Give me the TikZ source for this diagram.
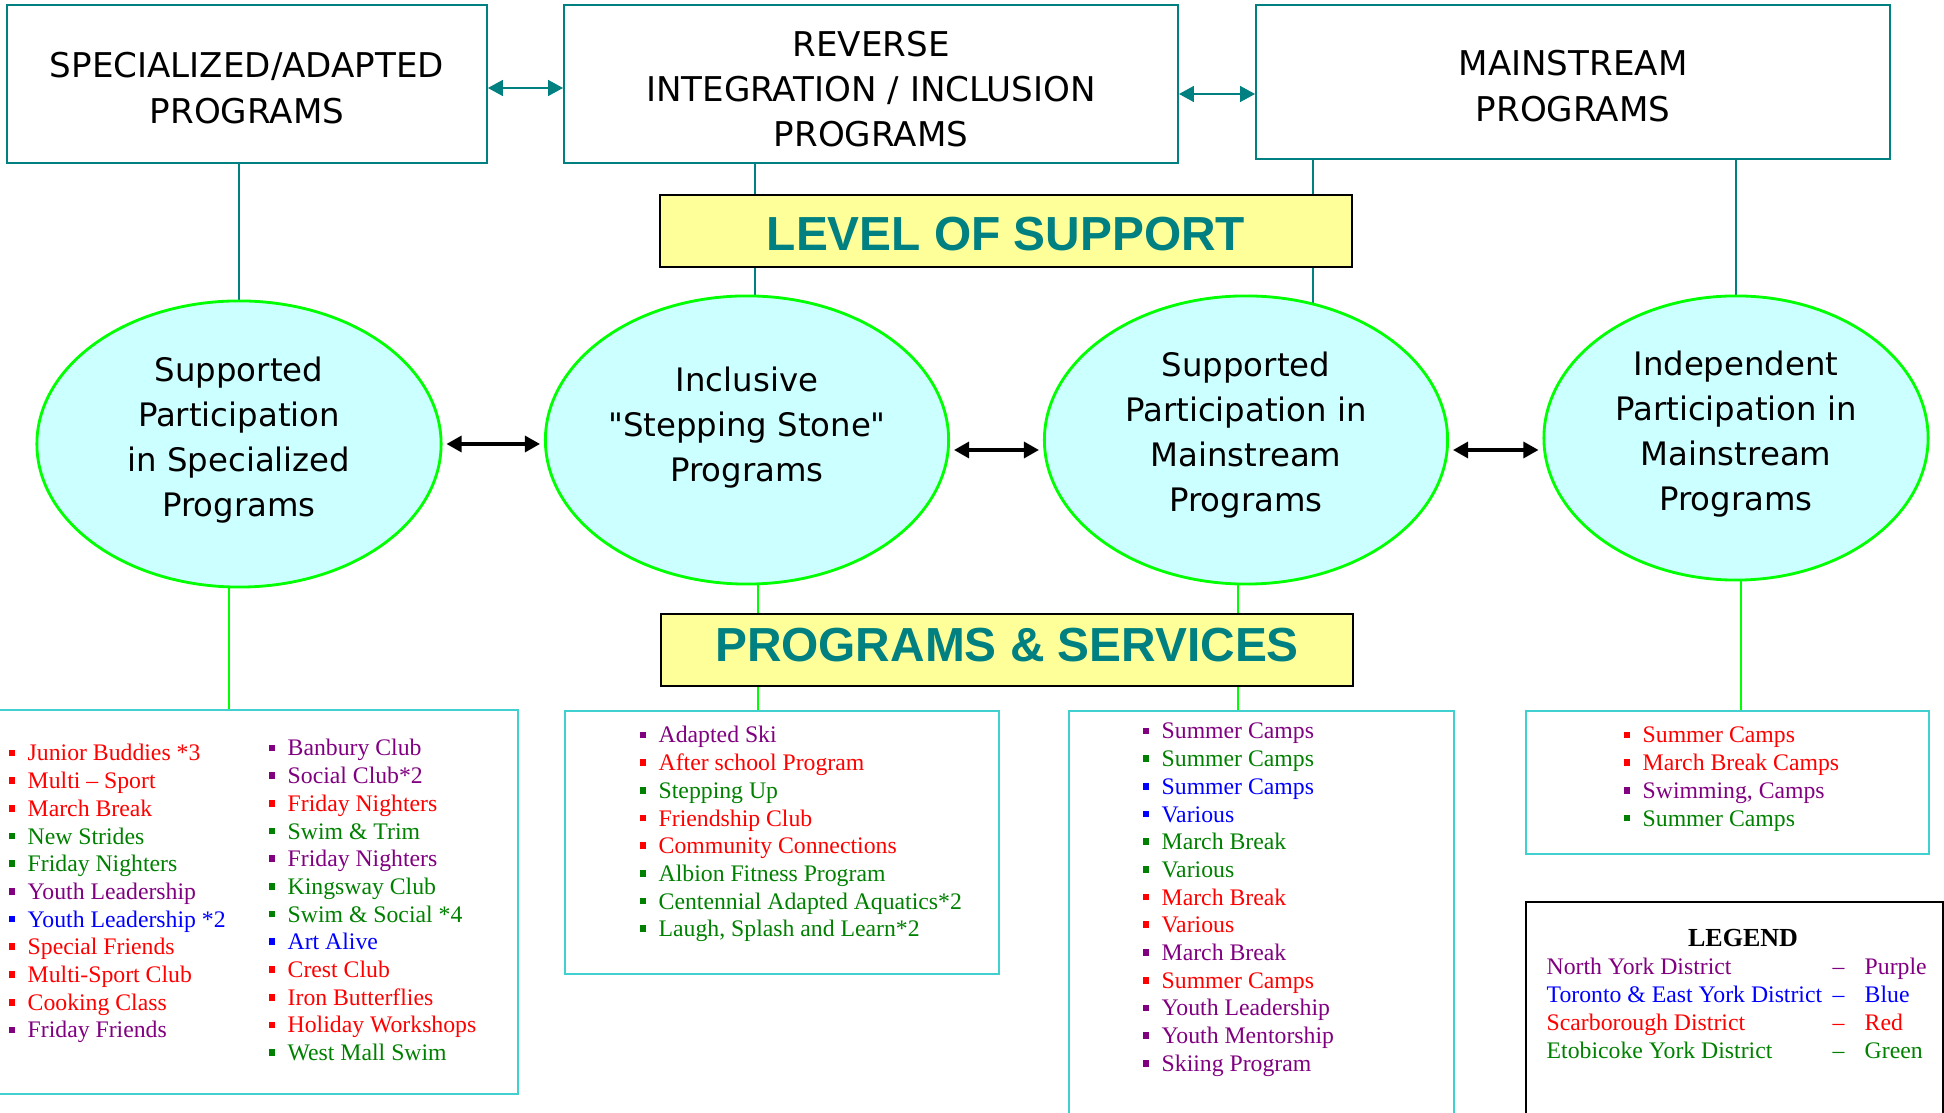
\documentclass[tikz,border=0pt]{standalone}
\usepackage{fontspec}
\setmainfont{Liberation Serif}
\newfontfamily\ovalfont{DejaVu Sans}
\newfontfamily\bannerfont{Liberation Sans}
\usetikzlibrary{arrows.meta,shapes.geometric}
\pgfdeclarelayer{background}
\pgfsetlayers{background,main}
\definecolor{tealc}{RGB}{0,128,128}
\definecolor{limec}{RGB}{0,255,0}
\definecolor{ovalfill}{RGB}{204,255,255}
\definecolor{bannerfill}{RGB}{255,255,153}
\definecolor{listframe}{RGB}{64,208,208}
\definecolor{nyd}{RGB}{128,0,128}
\definecolor{ted}{RGB}{0,0,255}
\definecolor{scd}{RGB}{255,0,0}
\definecolor{etd}{RGB}{0,128,0}
\newcommand\sqbullet{\raisebox{1.35pt}{\rule{1.9pt}{1.9pt}}\hspace{3.5pt}}
\tikzstyle{levelbox}=[draw=tealc,line width=0.45pt,inner sep=0pt]
\tikzstyle{boxtext}=[inner sep=0pt,align=center,font=\ovalfont\fontsize{9.7}{12.9}\selectfont]
\tikzstyle{oval}=[ellipse,draw=limec,fill=ovalfill,line width=0.8pt,inner sep=0pt]
\tikzstyle{ovaltext}=[inner sep=0pt,align=center,font=\ovalfont\fontsize{9.2}{12.8}\selectfont]
\tikzstyle{banner}=[draw=black,fill=bannerfill,line width=0.6pt,minimum width=6.92cm,minimum height=0.72cm,inner sep=0pt,text=tealc,font=\bannerfont\bfseries\fontsize{13.6}{16}\selectfont]
\tikzstyle{listbox}=[draw=listframe,line width=0.45pt,inner sep=0pt]
\tikzstyle{item}=[anchor=base west,inner sep=0pt,font=\fontsize{6.75}{8}\selectfont]
\tikzstyle{tealline}=[draw=tealc,line width=0.3pt]
\tikzstyle{greenline}=[draw=limec,line width=0.3pt]
\tikzstyle{tealarrow}=[draw=tealc,line width=0.45pt,{Triangle[length=0.15cm,width=0.16cm]}-{Triangle[length=0.15cm,width=0.16cm]}]
\tikzstyle{blackarrow}=[draw=black,line width=0.9pt,{Triangle[length=0.15cm,width=0.16cm]}-{Triangle[length=0.15cm,width=0.16cm]},shorten <=0.04cm,shorten >=0.04cm]

\begin{document}
\begin{tikzpicture}[x=0.01cm, y=-0.01cm]
    \useasboundingbox (0,0) rectangle (1944,1113);

    % Top row of program types
    \node[levelbox,minimum width=4.80cm,minimum height=1.58cm] (spec) at (247,84) {};
    \node[levelbox,minimum width=6.14cm,minimum height=1.58cm] (rev) at (871,84) {};
    \node[levelbox,minimum width=6.34cm,minimum height=1.54cm] (main) at (1573,82) {};
    \node[boxtext] (spec-t) at ([yshift=-0.04cm]spec.center) {SPECIALIZED/ADAPTED\\PROGRAMS};
    \node[boxtext] (rev-t) at ([yshift=-0.05cm]rev.center) {REVERSE\\INTEGRATION / INCLUSION\\PROGRAMS};
    \node[boxtext] (main-t) at ([yshift=-0.04cm]main.center) {MAINSTREAM\\PROGRAMS};

    % The two banners
    \node[banner,text height=11.15pt,text depth=0pt] (los) at (1006,231) {LEVEL OF SUPPORT};
    \node[banner,text height=9.75pt,text depth=3.4pt] (ps) at (1007,650) {PROGRAMS \& SERVICES};

    % Levels of support
    \foreach \pos/\name/\w/\h/\dy/\txt in {(239,444)/e1/4.04/2.86/0.04/{Supported\\Participation\\in Specialized\\Programs},
                                  (747,440)/e2/4.03/2.88/0.12/{Inclusive\\"Stepping Stone"\\Programs},
                                  (1246,440)/e3/4.03/2.88/0.05/{Supported\\Participation in\\Mainstream\\Programs},
                                  (1736,438)/e4/3.84/2.84/0.04/{Independent\\Participation in\\Mainstream\\Programs}}
    {
        \node[oval,minimum width=\w cm,minimum height=\h cm] (\name) at \pos {};
        \node[ovaltext] (\name-t) at ([yshift=\dy cm]\name.center) {\txt};
    }

    % Boxes for the program lists
    \node[listbox,minimum width=5.28cm,minimum height=3.84cm] (pb1) at (254,902) {};
    \node[listbox,minimum width=4.34cm,minimum height=2.63cm] (pb2) at (782,842.5) {};
    \node[listbox,minimum width=3.85cm,minimum height=4.14cm] (pb3) at (1261.5,918) {};
    \node[listbox,minimum width=4.03cm,minimum height=1.43cm] (pb4) at (1727.5,782.5) {};
    \node[draw=black,line width=0.45pt,inner sep=0pt,minimum width=4.17cm,minimum height=2.23cm] (legend) at (1734.5,1013.5) {};

    % Connect everything, behind the nodes
    \begin{pgfonlayer}{background}
        \path[tealline] (e1.north |- spec.south) -- (e1.center);
        \path[tealline] (755,0 |- rev.south) -- (755,0 |- los.north);
        \path[tealline] (755,0 |- los.south) -- (755,0 |- e2.center);
        \path[tealline] (1313,0 |- main.south) -- (1313,0 |- los.north);
        \path[tealline] (1313,0 |- los.south) -- (1313,0 |- e3.center);
        \path[tealline] (e4.north |- main.south) -- (e4.center);

        \path[greenline] (229,0 |- e1.center) -- (229,0 |- pb1.north);
        \path[greenline] (758,0 |- e2.center) -- (758,0 |- ps.north);
        \path[greenline] (758,0 |- ps.south) -- (758,0 |- pb2.north);
        \path[greenline] (1238,0 |- e3.center) -- (1238,0 |- ps.north);
        \path[greenline] (1238,0 |- ps.south) -- (1238,0 |- pb3.north);
        \path[greenline] (1741,0 |- e4.center) -- (1741,0 |- pb4.north);
    \end{pgfonlayer}

    \draw[tealarrow] ([yshift=-0.04cm]spec.east) -- ([yshift=-0.04cm]rev.west);
    \draw[tealarrow] ([yshift=-0.1cm]rev.east) -- ([yshift=-0.1cm]rev.east -| main.west);

    \draw[blackarrow] (e1.east) -- (e1.east -| e2.west);
    \draw[blackarrow] ([yshift=-0.1cm]e2.east) -- ([yshift=-0.1cm]e3.west);
    \draw[blackarrow] ([yshift=-0.1cm]e3.east) -- ([yshift=-0.1cm]e3.east -| e4.west);

    % Program lists, colour = district
    \foreach \c/\t [count=\i] in {scd/Junior Buddies *3, scd/Multi – Sport, scd/March Break, etd/New Strides,
            etd/Friday Nighters, nyd/Youth Leadership, ted/Youth Leadership *2, scd/Special Friends,
            scd/Multi-Sport Club, scd/Cooking Class, nyd/Friday Friends}
        \node[item,text=\c] at (8,{761+27.7*(\i-1)}) {\sqbullet\t};

    \foreach \c/\t [count=\i] in {nyd/Banbury Club, nyd/Social Club*2, scd/Friday Nighters, etd/Swim \& Trim,
            nyd/Friday Nighters, etd/Kingsway Club, etd/Swim \& Social *4, ted/Art Alive, scd/Crest Club,
            scd/Iron Butterflies, scd/Holiday Workshops, etd/West Mall Swim}
        \node[item,text=\c] at (268,{756+27.7*(\i-1)}) {\sqbullet\t};

    \foreach \c/\t [count=\i] in {nyd/Adapted Ski, scd/After school Program, etd/Stepping Up, scd/Friendship Club,
            scd/Community Connections, etd/Albion Fitness Program, etd/Centennial Adapted Aquatics*2,
            {etd/Laugh, Splash and Learn*2}}
        \node[item,text=\c] at (639,{743+27.7*(\i-1)}) {\sqbullet\t};

    \foreach \c/\t [count=\i] in {nyd/Summer Camps, etd/Summer Camps, ted/Summer Camps, ted/Various,
            etd/March Break, etd/Various, scd/March Break, scd/Various, nyd/March Break, scd/Summer Camps,
            nyd/Youth Leadership, nyd/Youth Mentorship, nyd/Skiing Program}
        \node[item,text=\c] at (1142,{739+27.7*(\i-1)}) {\sqbullet\t};

    \foreach \c/\t [count=\i] in {scd/Summer Camps, scd/March Break Camps, {nyd/Swimming, Camps}, etd/Summer Camps}
        \node[item,text=\c] at (1623,{743+27.7*(\i-1)}) {\sqbullet\t};

    % Legend
    \node[anchor=base,inner sep=0pt,font=\bfseries\fontsize{7.4}{9}\selectfont] (legtitle) at (1743,947) {LEGEND};
    \foreach \c/\t/\k [count=\i] in {nyd/North York District/Purple, ted/Toronto \& East York District/Blue,
            scd/Scarborough District/Red, etd/Etobicoke York District/Green}
    {
        \node[item,text=\c] at (1546,{975+27.7*(\i-1)}) {\t};
        \node[item,text=\c] at (1832,{975+27.7*(\i-1)}) {–};
        \node[item,text=\c] at (1864,{975+27.7*(\i-1)}) {\k};
    }
\end{tikzpicture}
\end{document}
